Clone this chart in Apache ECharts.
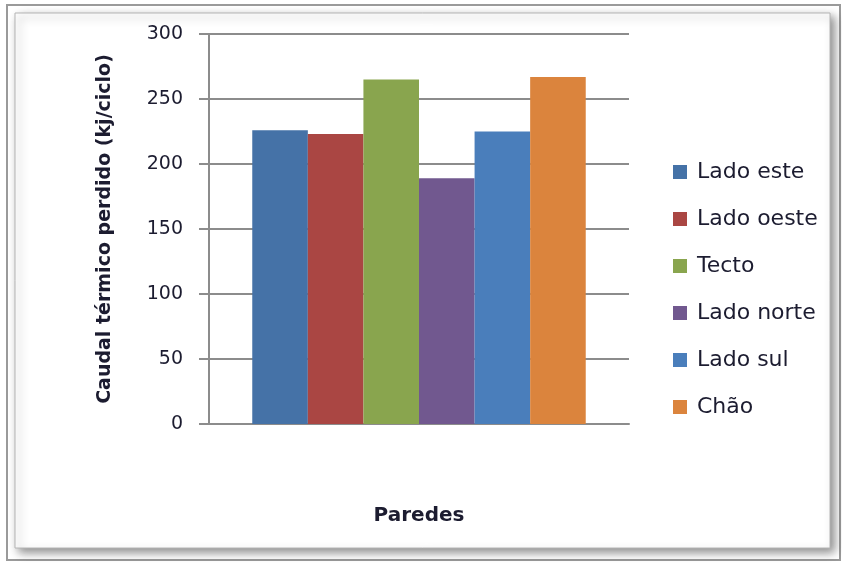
<!DOCTYPE html>
<html>
<head>
<meta charset="utf-8">
<script src="https://cdn.jsdelivr.net/npm/echarts@6/dist/echarts.min.js"></script>
<style>
  html, body { margin: 0; padding: 0; background: #ffffff; }
  #chart { width: 842px; height: 564px; }
</style>
</head>
<body>
<div id="chart"></div>
<script>
// Heat lost per wall (kj/ciclo)
const categories = ['Paredes'];
const seriesNames = ['Lado este', 'Lado oeste', 'Tecto', 'Lado norte', 'Lado sul', 'Chão'];
const ladoEste = [226];
const ladoOeste = [223];
const tecto = [265];
const ladoNorte = [189];
const ladoSul = [225];
const chao = [267];
const yTicks = [0, 50, 100, 150, 200, 250, 300];

const seriesValues = [ladoEste, ladoOeste, tecto, ladoNorte, ladoSul, chao];
const colors = ['#4572A7', '#AA4643', '#89A54E', '#71588F', '#4A7EBB', '#DB843D'];

const chart = echarts.init(document.getElementById('chart'), null, { renderer: 'canvas' });

const textColor = '#1c1c30';
const fontFamily = '"DejaVu Sans", sans-serif';

chart.setOption({
  backgroundColor: '#ffffff',
  animation: false,
  color: colors,
  graphic: [
    {
      type: 'rect', z: -10, silent: true,
      shape: { x: 7, y: 5, width: 833, height: 555 },
      style: { fill: '#ffffff', stroke: '#9a9a9a', lineWidth: 2 }
    },
    {
      type: 'rect', z: -9, silent: true,
      shape: { x: 15, y: 13, width: 815, height: 535 },
      style: {
        fill: '#ffffff', stroke: '#b4b4b4', lineWidth: 1,
        shadowBlur: 9, shadowOffsetX: 4, shadowOffsetY: 4,
        shadowColor: 'rgba(0,0,0,0.45)'
      }
    }
  ],
  grid: { left: 209, right: 213, top: 34, bottom: 140, containLabel: false },
  legend: {
    orient: 'vertical',
    left: 673,
    top: 161,
    padding: 0,
    itemWidth: 14,
    itemHeight: 14,
    itemGap: 25,
    icon: 'rect',
    data: seriesNames,
    textStyle: { fontSize: 22, color: textColor, fontFamily: fontFamily, lineHeight: 22, padding: [0, 0, 0, 5] }
  },
  xAxis: {
    type: 'category',
    data: categories,
    name: 'Paredes',
    nameLocation: 'middle',
    nameGap: 82,
    nameTextStyle: { fontSize: 20, fontWeight: 'bold', color: textColor, fontFamily: fontFamily },
    axisLine: { show: true, lineStyle: { color: '#8c8c8c', width: 2 } },
    axisTick: { show: false },
    axisLabel: { show: false }
  },
  yAxis: {
    type: 'value',
    min: 0,
    max: 300,
    interval: 50,
    name: 'Caudal térmico perdido (kj/ciclo)',
    nameLocation: 'middle',
    nameGap: 94,
    nameTextStyle: { fontSize: 19, fontWeight: 'bold', color: textColor, fontFamily: fontFamily },
    axisLine: { show: true, lineStyle: { color: '#8c8c8c', width: 2 } },
    axisTick: { show: true, inside: false, length: 10, lineStyle: { color: '#8c8c8c', width: 2 } },
    axisLabel: {
      margin: 26,
      fontSize: 19,
      color: textColor,
      fontFamily: fontFamily,
      formatter: function (v) { return yTicks.indexOf(v) >= 0 ? String(v) : ''; }
    },
    splitLine: { show: true, lineStyle: { color: '#8c8c8c', width: 2 } }
  },
  series: seriesNames.map(function (name, i) {
    return {
      name: name,
      type: 'bar',
      data: seriesValues[i],
      barGap: '0%',
      barCategoryGap: '20.6%',
      itemStyle: { color: colors[i] }
    };
  })
});
</script>
</body>
</html>
